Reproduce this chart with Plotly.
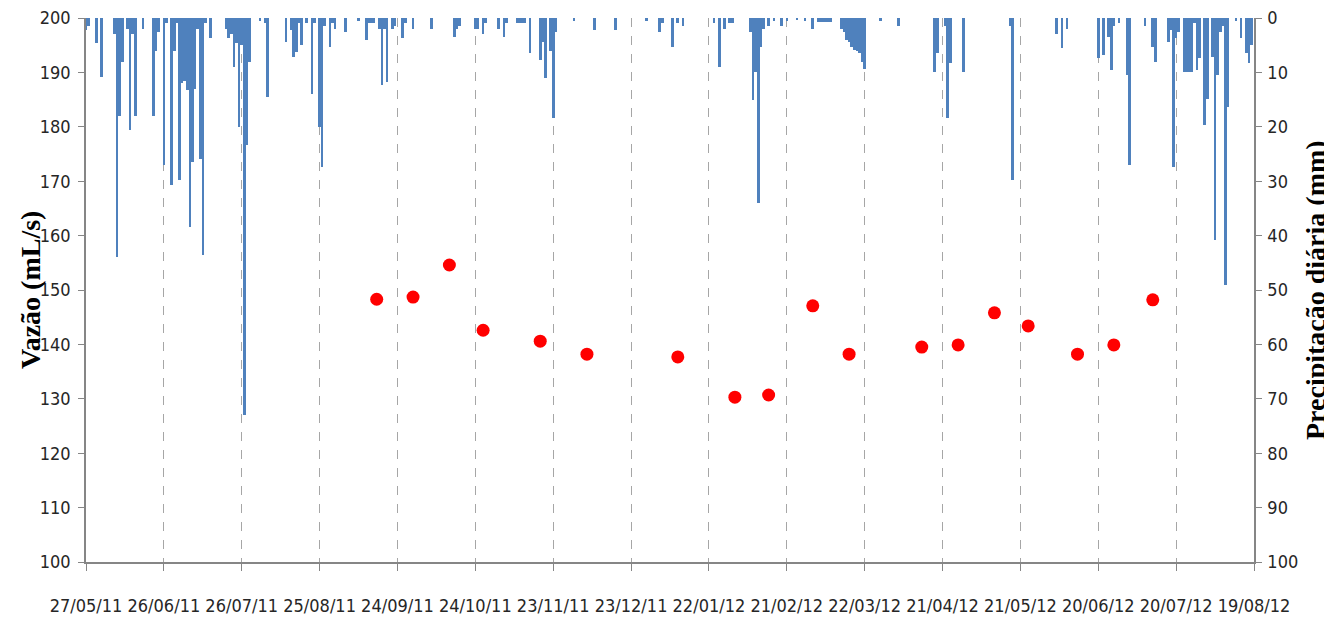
import pandas as pd
import plotly.graph_objects as go

START_DATE = "2011-05-27"
END_DATE = "2012-08-19"

# Daily precipitation (mm): day number since START_DATE and amount
precip_day = [0, 1, 4, 6, 11, 12, 13, 14, 16, 17, 18, 19, 22, 26, 27, 28, 30, 31,
              33, 34, 35, 36, 37, 38, 39, 40, 41, 42, 43, 44, 45, 46, 48,
              54, 55, 56, 57, 58, 59, 60, 61, 62, 63, 67, 69, 70,
              77, 79, 80, 81, 82, 83, 85, 87, 88, 90, 91, 92, 94, 95, 96, 100, 105,
              108, 109, 110, 111, 113, 114, 115, 116, 118, 119, 122, 123, 126, 133,
              142, 143, 144, 150, 151, 153, 154, 159, 161, 162, 166, 167, 168, 169,
              171, 175, 176, 177, 179, 180, 181, 188, 196, 204, 216, 221, 222,
              226, 228, 230, 242, 244, 246, 248, 249, 256, 257, 258, 259, 260, 261,
              263, 265, 268, 270, 274, 277, 280, 282, 283, 284, 285, 286, 287,
              291, 292, 293, 294, 295, 296, 297, 298, 299, 300,
              306, 313, 327, 328, 331, 332, 333, 338, 356, 357, 374,
              376, 378, 390, 392, 394, 395, 396, 398, 401, 402, 408, 411, 412,
              417, 418, 419, 420, 421, 423, 424, 425, 426, 427, 428, 429, 431,
              432, 434, 435, 436, 437, 438, 439, 440, 443, 445, 447, 448, 449]
precip_mm = [2.2, 1.5, 4.6, 10.8, 3, 44, 18, 8, 2, 20.6, 3, 18, 2, 18, 6, 2.5, 27, 1,
             30.7, 6, 1, 29.8, 12, 11.5, 13.2, 38.4, 26.5, 13, 2, 26, 43.6, 1, 3.7,
             2, 3.7, 3, 9, 4.6, 20, 5, 73, 23.4, 8, 0.5, 1, 14.5,
             4.4, 2.2, 7.1, 6.2, 1, 4.9, 1, 13.9, 1, 20, 27.4, 1.5, 5.3, 1, 2, 2.6, 0.5,
             4, 1, 1, 1, 2, 12.3, 2, 11.7, 2, 1.5, 3.7, 1, 2, 2,
             3.4, 2, 1.5, 2, 2, 3, 1, 2, 3.4, 1, 1, 1, 1, 1,
             6.5, 7.7, 4.4, 11, 6, 18.4, 2.5, 0.5, 2.2, 2.2, 0.5, 2.6, 1,
             5.3, 1, 1.5, 1, 9, 2, 1, 1, 2.5, 15, 10, 34, 5.3, 2,
             1.5, 0.6, 1.5, 0.6, 0.4, 0.6, 2, 0.8, 0.8, 0.8, 0.8, 0.8, 0.8,
             2, 2.5, 4, 4.5, 5.3, 5.8, 6, 6.5, 8, 9.4,
             0.5, 1.5, 10, 6.5, 1.5, 18.4, 8.3, 9.9, 1.5, 29.8, 3,
             5.6, 2, 7.4, 6.8, 3.4, 9.6, 1.5, 1, 10.5, 27, 1.5, 5.3, 8,
             4.4, 2.2, 27.4, 3.7, 2.5, 10, 10, 10, 10, 1, 9.6, 7.4, 19.7,
             14.8, 7.1, 40.8, 10.5, 2.5, 1.5, 49, 16.4, 0.5, 3.7, 6.5, 8.3, 5]

# Flow (mL/s)
flow_dates = ["2011-09-16", "2011-09-30", "2011-10-14", "2011-10-27", "2011-11-18",
              "2011-12-06", "2012-01-10", "2012-02-01", "2012-02-14", "2012-03-02",
              "2012-03-16", "2012-04-13", "2012-04-27", "2012-05-11", "2012-05-24",
              "2012-06-12", "2012-06-26", "2012-07-11"]
flow_values = [148.3, 148.7, 154.6, 142.6, 140.6, 138.2, 137.7, 130.3, 130.7, 147.1,
               138.2, 139.5, 139.9, 145.8, 143.4, 138.2, 139.9, 148.2]

tick_dates = ["2011-05-27", "2011-06-26", "2011-07-26", "2011-08-25", "2011-09-24",
              "2011-10-24", "2011-11-23", "2011-12-23", "2012-01-22", "2012-02-21",
              "2012-03-22", "2012-04-21", "2012-05-21", "2012-06-20", "2012-07-20",
              "2012-08-19"]

left_title = "Vazão (mL/s)"
right_title = "Precipitação diária (mm)"

start = pd.Timestamp(START_DATE)
precip_dates = [start + pd.Timedelta(days=d) for d in precip_day]

AXIS_GRAY = "#868686"
TICK_FONT = dict(family="Liberation Sans Narrow, DejaVu Sans Condensed, Arial Narrow, sans-serif",
                 size=18, color="#262626")
TITLE_FONT = dict(family="Liberation Serif, Times New Roman, serif", size=28, color="#000000")

fig = go.Figure()
fig.add_trace(go.Bar(
    x=precip_dates, y=precip_mm, yaxis="y",
    width=86400000, marker=dict(color="#4F81BD", line=dict(width=0)),
    name="Precipitação",
))
fig.add_trace(go.Scatter(
    x=pd.to_datetime(flow_dates), y=flow_values, yaxis="y2", mode="markers",
    marker=dict(color="#FF0000", size=13, symbol="circle"),
    name="Vazão",
))

# The page body offsets the figure by 8px at top-left; compensate.
fig.update_layout(
    width=1324, height=610,
    margin=dict(l=78, r=78, t=10, b=56),
    paper_bgcolor="white", plot_bgcolor="white",
    showlegend=False, bargap=0,
    xaxis=dict(
        type="date", range=[START_DATE, END_DATE], automargin=False,
        tickmode="array", tickvals=tick_dates, tickformat="%d/%m/%y",
        showgrid=True, gridcolor="#A6A6A6", griddash="dash", gridwidth=1,
        showline=True, linecolor=AXIS_GRAY, linewidth=1.5,
        ticks="outside", ticklen=7, tickcolor=AXIS_GRAY,
        tickfont=TICK_FONT, ticklabelstandoff=20, zeroline=False,
        ticklabeloverflow="allow",
    ),
    yaxis=dict(
        side="right", range=[100, 0], tickmode="linear", tick0=0, dtick=10,
        automargin=False, showgrid=False, zeroline=False,
        showline=True, linecolor=AXIS_GRAY, linewidth=1.5,
        ticks="outside", ticklen=6, tickcolor=AXIS_GRAY,
        tickfont=TICK_FONT, ticklabelstandoff=2, ticklabeloverflow="allow",
    ),
    yaxis2=dict(
        side="left", overlaying="y", range=[100, 200], tickmode="linear", tick0=100, dtick=10,
        automargin=False, showgrid=False, zeroline=False,
        showline=True, linecolor=AXIS_GRAY, linewidth=1.5,
        ticks="outside", ticklen=6, tickcolor=AXIS_GRAY,
        tickfont=TICK_FONT, ticklabelstandoff=4, ticklabeloverflow="allow",
    ),
    annotations=[
        dict(text="<b>" + left_title + "</b>", xref="paper", yref="paper",
             x=0, y=0.5, xshift=-56, xanchor="center", yanchor="middle",
             textangle=-90, showarrow=False, font=TITLE_FONT),
        dict(text="<b>" + right_title + "</b>", xref="paper", yref="paper",
             x=1, y=0.5, xshift=61, xanchor="center", yanchor="middle",
             textangle=-90, showarrow=False, font=TITLE_FONT),
    ],
)

fig.write_html("out.html")
